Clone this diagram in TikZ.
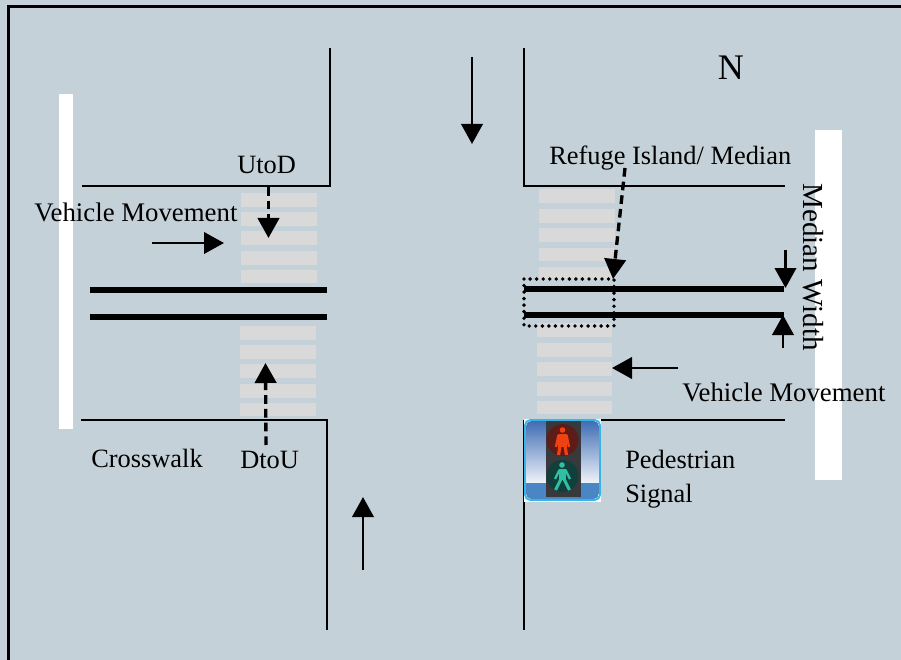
\documentclass[tikz,border=0pt]{standalone}
\usepackage{fontspec}
\setmainfont{Liberation Serif}
\usetikzlibrary{arrows.meta}
\definecolor{bgc}{HTML}{C5D1D8}
\definecolor{stripe}{HTML}{D9D9D9}
\definecolor{skytop}{HTML}{3F6DB4}
\definecolor{band}{HTML}{4A86C4}
\definecolor{pole}{HTML}{38393C}
\definecolor{redoff}{HTML}{5E1C18}
\definecolor{redon}{HTML}{EE4212}
\definecolor{greenoff}{HTML}{113F3C}
\definecolor{greenon}{HTML}{2FBFA2}
\definecolor{iconedge}{HTML}{38B4E8}
\tikzset{
 x=0.75pt,y=-0.75pt,
 road/.style={line width=1.5pt,black},
 median/.style={line width=4pt,black,line cap=butt},
 arr/.style={line width=2.1pt,-{Triangle[length=15pt,width=16pt]}},
 darr/.style={line width=2.5pt,dash pattern=on 6.5pt off 3.8pt,-{Triangle[length=15pt,width=16pt]}},
 lab/.style={font=\fontsize{19.8pt}{22pt}\selectfont,inner sep=0pt,anchor=base west},
 stripebox/.style={fill=stripe,draw=none},
 whitebar/.style={fill=white,draw=none},
}
\begin{document}
\begin{tikzpicture}
\useasboundingbox (0,0) rectangle (901,660);
\fill[bgc] (0,0) rectangle (901,660);
\draw[line width=2.4pt] (8.4,660) -- (8.4,6.4) -- (901,6.4);
% white bars
\fill[whitebar] (59,94) rectangle (73,429);
\fill[whitebar] (815,130) rectangle (842,480);
% crosswalks
\foreach \a/\b in {193/207,212/226,231/245,251/265,270/283}{\fill[stripebox] (241,\a) rectangle (317,\b);}
\foreach \a/\b in {326/340,345/359,364/378,384/398,403/416}{\fill[stripebox] (240,\a) rectangle (316,\b);}
\foreach \a/\b in {189/203,209/223,228/242,248/261,267/280}{\fill[stripebox] (539,\a) rectangle (615,\b);}
\foreach \a/\b in {323/337,343/357,362/376,382/396,401/414}{\fill[stripebox] (537,\a) rectangle (612,\b);}
% roads
\draw[road] (330,48) -- (330,186) -- (82,186);
\draw[road] (524,48) -- (524,186) -- (785,186);
\draw[road] (81,420) -- (327,420) -- (327,630);
\draw[road] (524,630) -- (524,420);
\draw[road] (601,420) -- (785,420);
% medians
\draw[median] (90,290) -- (327,290);
\draw[median] (90,317) -- (327,317);
\draw[median] (524,289) -- (784,289);
\draw[median] (524,315) -- (784,315);
\draw[line width=2.9pt,line cap=round,dash pattern=on 0pt off 4.9pt] (524,279) rectangle (614,326);
% named anchors for free-ended arrows
\coordinate (a1s) at (472,57); \coordinate (a1e) at (472,144);
\coordinate (a2s) at (363,570); \coordinate (a2e) at (363,497);
\coordinate (a3s) at (152,243); \coordinate (a3e) at (224,243);
\coordinate (a4s) at (678,368); \coordinate (a4e) at (612,368);
\coordinate (a5s) at (785.5,250); \coordinate (a5e) at (785.5,288);
\coordinate (a6s) at (783,348); \coordinate (a6e) at (783,315);
\coordinate (d1s) at (268.5,187); \coordinate (d1e) at (268.5,238);
\coordinate (d2s) at (266,445); \coordinate (d2e) at (265.5,363);
\coordinate (d3s) at (625,168); \coordinate (d3e) at (613,279);
\draw[arr] (a1s) -- (a1e);
\draw[arr] (a2s) -- (a2e);
\draw[arr] (a3s) -- (a3e);
\draw[arr] (a4s) -- (a4e);
\draw[arr] (a5s) -- (a5e);
\draw[arr] (a6s) -- (a6e);
\draw[darr] (d1s) -- (d1e);
\draw[darr] (d2s) -- (d2e);
\draw[darr] (d3s) -- (d3e);
% labels
\node[lab,font=\fontsize{27pt}{30pt}\selectfont] (n) at (717.5,80) {N};
\node[lab] (u) at (237,174) {UtoD};
\node[lab] (r) at (549,165) {Refuge Island/ Median};
\node[lab,font=\fontsize{20.1pt}{22pt}\selectfont] (v1) at (34,221) {Vehicle Movement};
\node[lab,font=\fontsize{20.1pt}{22pt}\selectfont] (v2) at (682,401) {Vehicle Movement};
\node[lab] (c) at (91,467) {Crosswalk};
\node[lab] (d) at (240,468) {DtoU};
\node[lab] (p1) at (625,468) {Pedestrian};
\node[lab] (p2) at (625,502) {Signal};
\node[lab,rotate=-90,font=\fontsize{21.8pt}{24pt}\selectfont] (m) at (803,183) {Median Width};
% signal icon
\fill[white] (524,419) rectangle (601,502);
\begin{scope}
\clip[rounded corners=4pt] (526,421) rectangle (599,499);
\shade[top color=skytop,bottom color=skytop!8!white] (526,421) rectangle (599,483);
\fill[band] (526,483) rectangle (599,499);
\fill[pole] (546,421) rectangle (581,497);
\end{scope}
\fill[redoff] (562.5,440) circle (16);
\fill[greenoff] (562.5,476) circle (16);
% red walker
\fill[redon] (562.5,430) circle (2.8);
\fill[redon] (558,434) rectangle (567,447);
\draw[redon,line width=1.8pt] (558.5,435) -- (556,447) (566.5,435) -- (569,447);
\draw[redon,line width=2.4pt] (560,446) -- (558.5,455) (565,446) -- (566.5,455);
% green walker
\fill[greenon] (562,465) circle (2.8);
\fill[greenon] (559,469) rectangle (566,480);
\draw[greenon,line width=1.7pt] (559.5,470) -- (555,479) (565.5,470) -- (570,479);
\draw[greenon,line width=2.3pt] (561,479) -- (555.5,490) (564,479) -- (569.5,490);
\draw[iconedge,line width=1.4pt,rounded corners=4pt] (525,420) rectangle (600,500);
\end{tikzpicture}
\end{document}
